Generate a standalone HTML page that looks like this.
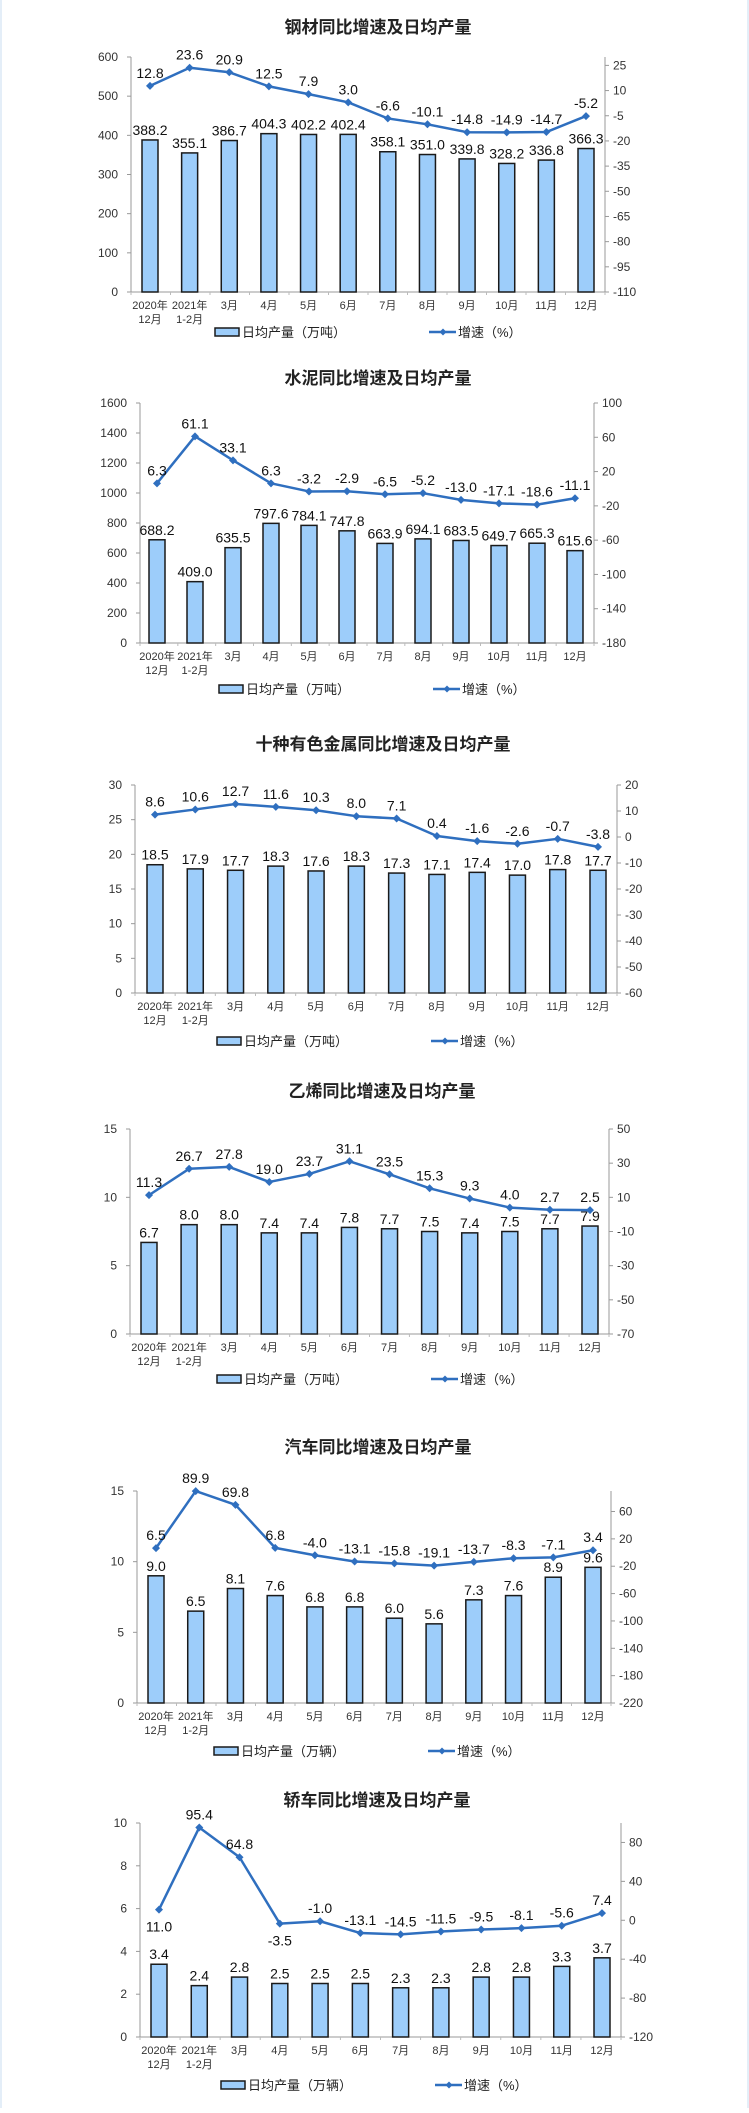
<!DOCTYPE html>
<html><head><meta charset="utf-8"><title>工业产品同比增速及日均产量</title>
<style>
html,body{margin:0;padding:0;background:#fff;}
body{width:749px;height:2108px;overflow:hidden;position:relative;}
#page{position:absolute;left:0;top:0;width:749px;height:2108px;border-left:2px solid #e4eef8;border-right:2px solid #e4eef8;box-sizing:border-box;}
svg text{font-family:"Liberation Sans","Noto Sans CJK SC",sans-serif;}
</style></head>
<body>
<div id="page">
<svg id="svg" width="749" height="2108" viewBox="0 0 749 2108" xmlns="http://www.w3.org/2000/svg"></svg>
</div>
<script>
// ---- shared categories ----
const catLine1 = ["2020年","2021年","3月","4月","5月","6月","7月","8月","9月","10月","11月","12月"];
const catLine2 = ["12月","1-2月","","","","","","","","","",""];

// ---- chart 1: steel ----
const steelBars = [388.2,355.1,386.7,404.3,402.2,402.4,358.1,351.0,339.8,328.2,336.8,366.3];
const steelGrowth = [12.8,23.6,20.9,12.5,7.9,3.0,-6.6,-10.1,-14.8,-14.9,-14.7,-5.2];
const steelLeftTicks = [0,100,200,300,400,500,600];
const steelRightTicks = [25,10,-5,-20,-35,-50,-65,-80,-95,-110];
// ---- chart 2: cement ----
const cementBars = [688.2,409.0,635.5,797.6,784.1,747.8,663.9,694.1,683.5,649.7,665.3,615.6];
const cementGrowth = [6.3,61.1,33.1,6.3,-3.2,-2.9,-6.5,-5.2,-13.0,-17.1,-18.6,-11.1];
const cementLeftTicks = [0,200,400,600,800,1000,1200,1400,1600];
const cementRightTicks = [100,60,20,-20,-60,-100,-140,-180];
// ---- chart 3: nonferrous ----
const metalBars = [18.5,17.9,17.7,18.3,17.6,18.3,17.3,17.1,17.4,17.0,17.8,17.7];
const metalGrowth = [8.6,10.6,12.7,11.6,10.3,8.0,7.1,0.4,-1.6,-2.6,-0.7,-3.8];
const metalLeftTicks = [0,5,10,15,20,25,30];
const metalRightTicks = [20,10,0,-10,-20,-30,-40,-50,-60];
// ---- chart 4: ethylene ----
const ethyBars = [6.7,8.0,8.0,7.4,7.4,7.8,7.7,7.5,7.4,7.5,7.7,7.9];
const ethyGrowth = [11.3,26.7,27.8,19.0,23.7,31.1,23.5,15.3,9.3,4.0,2.7,2.5];
const ethyLeftTicks = [0,5,10,15];
const ethyRightTicks = [50,30,10,-10,-30,-50,-70];
// ---- chart 5: autos ----
const autoBars = [9.0,6.5,8.1,7.6,6.8,6.8,6.0,5.6,7.3,7.6,8.9,9.6];
const autoGrowth = [6.5,89.9,69.8,6.8,-4.0,-13.1,-15.8,-19.1,-13.7,-8.3,-7.1,3.4];
const autoLeftTicks = [0,5,10,15];
const autoRightTicks = [60,20,-20,-60,-100,-140,-180,-220];
// ---- chart 6: sedans ----
const carBars = [3.4,2.4,2.8,2.5,2.5,2.5,2.3,2.3,2.8,2.8,3.3,3.7];
const carGrowth = [11.0,95.4,64.8,-3.5,-1.0,-13.1,-14.5,-11.5,-9.5,-8.1,-5.6,7.4];
const carLeftTicks = [0,2,4,6,8,10];
const carRightTicks = [80,40,0,-40,-80,-120];

const NS = "http://www.w3.org/2000/svg";
const svg = document.getElementById("svg");
function mk(tag, attrs, parent){
  const e = document.createElementNS(NS, tag);
  for (const k in attrs) e.setAttribute(k, attrs[k]);
  (parent||svg).appendChild(e);
  return e;
}
function diamond(g, x, y, r){
  return mk("polygon", {points:`${x},${y-r} ${x+r},${y} ${x},${y+r} ${x-r},${y}`, fill:"#2f6fbf"}, g);
}

function drawChart(o){
  const g = mk("g", {});
  
  
  const yL = v => o.bottom - (v - o.lMin)/(o.lMax - o.lMin)*(o.bottom - o.top);
  const yR = v => o.bottom - (v - o.rMin)/(o.rMax - o.rMin)*(o.bottom - o.top);
  const n = o.bars.length;
  const step = (o.lastX - o.firstX)/(n-1);
  const xC = i => o.firstX + i*step;

  const t = mk("text", {x:o.titleX, y:o.titleY+6, "text-anchor":"middle", "font-size":"17", "font-weight":"bold", fill:"#222"}, g);
  t.textContent = o.title;
  
  

  // axes
  const la = mk("line", {x1:o.leftX, y1:o.top, x2:o.leftX, y2:o.bottom, stroke:"#999", "stroke-width":"1"}, g);
  
  
  const ra = mk("line", {x1:o.rightX, y1:o.top, x2:o.rightX, y2:o.bottom, stroke:"#999", "stroke-width":"1"}, g);
  
  
  const xa = mk("line", {x1:o.leftX, y1:o.bottom, x2:o.rightX, y2:o.bottom, stroke:"#999", "stroke-width":"1"}, g);
  
  

  o.lTicks.forEach(v => {
    const y = yL(v);
    mk("line", {x1:o.leftX-4, y1:y, x2:o.leftX, y2:y, stroke:"#999"}, g);
    const tx = mk("text", {x:o.leftX-13, y:y+4, "text-anchor":"end", "font-size":"12", fill:"#333", "font-family":"Liberation Serif, serif"}, g);
    tx.textContent = v;
    
    
  });
  o.rTicks.forEach(v => {
    const y = yR(v);
    mk("line", {x1:o.rightX, y1:y, x2:o.rightX+4, y2:y, stroke:"#999"}, g);
    const tx = mk("text", {x:o.rightX+8, y:y+4, "text-anchor":"start", "font-size":"12", fill:"#333", "font-family":"Liberation Serif, serif"}, g);
    tx.textContent = v;
    
    
  });
  for (let i=0;i<=n;i++){
    const x = o.leftX + (i)*(o.rightX-o.leftX)/n;
    mk("line", {x1:x, y1:o.bottom, x2:x, y2:o.bottom+3, stroke:"#bbb"}, g);
  }

  // bars
  o.bars.forEach((v,i) => {
    const x = xC(i), y = yL(v);
    const r = mk("rect", {x:x-8, y:y, width:16, height:o.bottom-y, fill:"#9dcdfa", stroke:"#1a1a1a", "stroke-width":"1.5"}, g);
    
    
    const lb = mk("text", {x:x, y:y-5, "text-anchor":"middle", "font-size":"14", fill:"#111"}, g);
    lb.textContent = v.toFixed(1);
    
    
  });

  // line
  const pts = o.line.map((v,i) => `${xC(i)},${yR(v)}`).join(" ");
  const pl = mk("polyline", {points:pts, fill:"none", stroke:"#2f6fbf", "stroke-width":"2.5", "stroke-linejoin":"round"}, g);
  
  
  o.line.forEach((v,i) => {
    const x = xC(i), y = yR(v);
    const d = diamond(g, x, y, 4);
    
    
    const below = o.below.indexOf(i) >= 0;
    const lb = mk("text", {x:x+(o.dx?o.dx:0), y: below ? y+22 : y-8, "text-anchor":"middle", "font-size":"14", fill:"#111"}, g);
    lb.textContent = v.toFixed(1);
    
    
  });

  // x labels
  catLine1.forEach((c,i) => {
    const x = xC(i);
    const a = mk("text", {x:x, y:o.labY+4, "text-anchor":"middle", "font-size":"11", fill:"#333"}, g);
    a.textContent = c;
    
    
    if (catLine2[i]){
      const b = mk("text", {x:x, y:o.labY+18, "text-anchor":"middle", "font-size":"11", fill:"#333"}, g);
      b.textContent = catLine2[i];
      
      
    }
  });

  // legend
  const lg = mk("g", {}, g);
  
  
  const lr = mk("rect", {x:o.legX, y:o.legY-4, width:24, height:8, fill:"#9dcdfa", stroke:"#1a1a1a", "stroke-width":"1.5"}, lg);
  
  
  const lt = mk("text", {x:o.legX+27, y:o.legY+5, "font-size":"13", fill:"#222"}, lg);
  lt.textContent = "日均产量（" + o.unit + "）";
  
  
  const ll = mk("line", {x1:o.legX+214, y1:o.legY, x2:o.legX+241, y2:o.legY, stroke:"#2f6fbf", "stroke-width":"2.5"}, lg);
  
  
  diamond(lg, o.legX+228, o.legY, 3.5);
  const lt2 = mk("text", {x:o.legX+243, y:o.legY+5, "font-size":"13", fill:"#222"}, lg);
  lt2.textContent = "增速（%）";
  
  
}

drawChart({name:"steel-chart", title:"钢材同比增速及日均产量", titleX:376, titleY:27,
  leftX:129, rightX:603, top:57, bottom:292, firstX:148, lastX:584,
  bars:steelBars, line:steelGrowth, lTicks:steelLeftTicks, rTicks:steelRightTicks,
  lMin:0, lMax:600, rMin:-110, rMax:30, below:[], labY:305, legX:213, legY:332, unit:"万吨"});
drawChart({name:"cement-chart", title:"水泥同比增速及日均产量", titleX:376, titleY:378,
  leftX:138, rightX:592, top:403, bottom:643, firstX:155, lastX:573,
  bars:cementBars, line:cementGrowth, lTicks:cementLeftTicks, rTicks:cementRightTicks,
  lMin:0, lMax:1600, rMin:-180, rMax:100, below:[], labY:656, legX:217, legY:689, unit:"万吨"});
drawChart({name:"nonferrous-chart", title:"十种有色金属同比增速及日均产量", titleX:381, titleY:744,
  leftX:133, rightX:615, top:785, bottom:993, firstX:153, lastX:596,
  bars:metalBars, line:metalGrowth, lTicks:metalLeftTicks, rTicks:metalRightTicks,
  lMin:0, lMax:30, rMin:-60, rMax:20, below:[], labY:1006, legX:215, legY:1041, unit:"万吨"});
drawChart({name:"ethylene-chart", title:"乙烯同比增速及日均产量", titleX:380, titleY:1091,
  leftX:128, rightX:607, top:1129, bottom:1334, firstX:147, lastX:588,
  bars:ethyBars, line:ethyGrowth, lTicks:ethyLeftTicks, rTicks:ethyRightTicks,
  lMin:0, lMax:15, rMin:-70, rMax:50, below:[], labY:1347, legX:215, legY:1379, unit:"万吨"});
drawChart({name:"auto-chart", title:"汽车同比增速及日均产量", titleX:376, titleY:1447,
  leftX:135, rightX:609, top:1491, bottom:1703, firstX:154, lastX:591,
  bars:autoBars, line:autoGrowth, lTicks:autoLeftTicks, rTicks:autoRightTicks,
  lMin:0, lMax:15, rMin:-220, rMax:90, below:[], labY:1716, legX:212, legY:1751, unit:"万辆"});
drawChart({name:"sedan-chart", title:"轿车同比增速及日均产量", titleX:375, titleY:1800,
  leftX:138, rightX:619, top:1823, bottom:2037, firstX:157, lastX:600,
  bars:carBars, line:carGrowth, lTicks:carLeftTicks, rTicks:carRightTicks,
  lMin:0, lMax:10, rMin:-120, rMax:100, below:[0,3], labY:2050, legX:219, legY:2085, unit:"万辆"});
</script>
</body></html>
